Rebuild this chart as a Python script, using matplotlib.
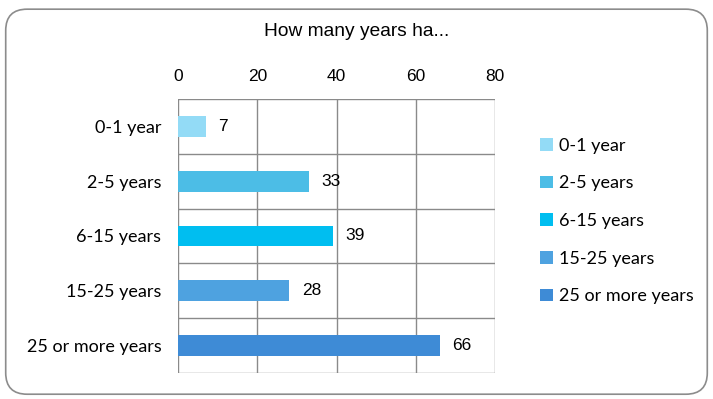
import matplotlib.pyplot as plt
from matplotlib.patches import FancyBboxPatch, Patch

categories = ['0-1 year', '2-5 years', '6-15 years', '15-25 years', '25 or more years']
counts = [7, 33, 39, 28, 66]
colors = ['#93DBF6', '#4CBDE6', '#00BEF0', '#4EA2E0', '#3E8BD6']
x_ticks = [0, 20, 40, 60, 80]

fig = plt.figure(figsize=(7.13, 3.99), dpi=100)

# rounded frame around the whole chart
frame = FancyBboxPatch((0.008, 0.012), 0.984, 0.965, boxstyle='round,pad=0,rounding_size=0.03',
                       transform=fig.transFigure, facecolor='white', edgecolor='#8c8c8c',
                       linewidth=1.2, mutation_aspect=713 / 399, zorder=-10)
fig.patches.append(frame)

ax = fig.add_axes([0.2497, 0.0652, 0.4445, 0.6867])
ax.set_zorder(5)
ax.patch.set_alpha(0)
ypos = list(range(len(categories)))
ax.barh(ypos, counts, height=0.38, color=colors, zorder=3)
for y, v in zip(ypos, counts):
    ax.text(v + 3.2, y, str(v), va='center', ha='left', fontsize=12.5,
            family='Liberation Sans', color='black')

ax.set_xlim(0, 80)
ax.set_ylim(len(categories) - 0.5, -0.5)
ax.set_xticks(x_ticks)
ax.set_xticklabels([str(t) for t in x_ticks], family='Liberation Sans', fontsize=12.5)
ax.xaxis.tick_top()
ax.set_yticks(ypos)
ax.set_yticklabels(categories, family='Lato', fontsize=13)
ax.tick_params(length=0)
ax.tick_params(axis='y', pad=12)
ax.tick_params(axis='x', pad=11)

# grid lines, including row separators
for x in x_ticks:
    ax.axvline(x, color='#8a8a8a', linewidth=1, zorder=1)
for b in [i + 0.5 for i in range(-1, len(categories))]:
    ax.axhline(b, color='#8a8a8a', linewidth=1, zorder=1)
for s in ax.spines.values():
    s.set_visible(False)

fig.text(0.5, 0.922, 'How many years ha...', ha='center', va='center', fontsize=13.8,
         family='Liberation Sans')

handles = [Patch(facecolor=c, edgecolor='none') for c in colors]
fig.legend(handles, categories, loc='center left', bbox_to_anchor=(0.735, 0.446),
           frameon=False, prop={'family': 'Lato', 'size': 13}, handlelength=0.7,
           handleheight=0.7, handletextpad=0.35, labelspacing=1.2)

fig.savefig('out.png', dpi=100)
